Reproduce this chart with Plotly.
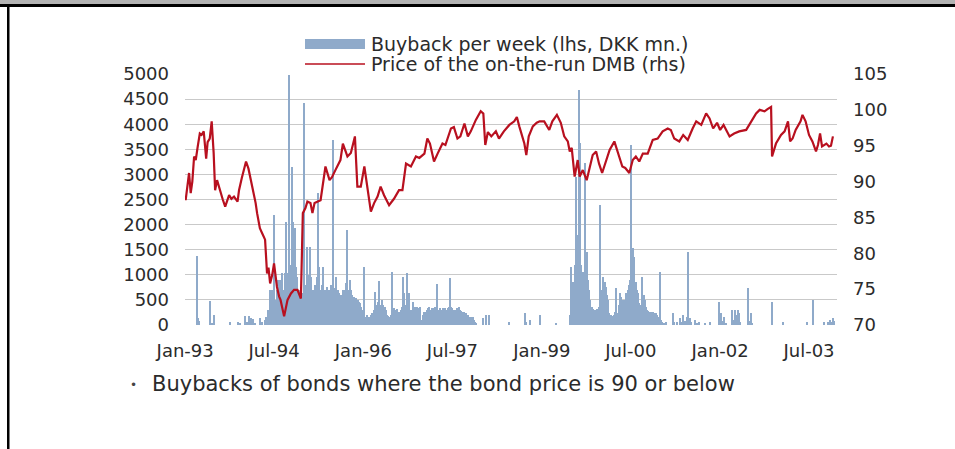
import pandas as pd
import plotly.graph_objects as go

# ---------------- data ----------------
# Weekly buybacks (DKK mn.), 52 weeks per year, 1993..2003
buyback_1993 = [0,0,0,0,0,0,0,0,0,0, 1375,133,70,0,0,0,0,0,0,0,
                0,485,0,30,0,200,0,0,0,0, 0,0,0,0,0,0,0,0,0,60,
                0,0,0,0,0,0,50,0,40,0, 0,0]
buyback_1994 = [170,0,60,0,170,130,40,110,0,40, 0,0,0,130,0,50,0,0,90,150,
                300,180,700,700,700,400,2190,500,700,900, 850,900,800,1030,700,1030,2060,1030,800,4980,
                1200,3155,2060,1000,1925,1160,960,700,700,630, 600,630]
buyback_1995 = [4415,630,800,1560,1000,1560,960,700,700,690, 800,960,2625,1160,700,700,800,1160,700,700,
                750,700,700,650,800,3685,700,730,960,700, 700,630,600,500,700,650,700,830,1890,700,
                900,700,600,565,550,500,530,500,450,430, 350,300]
buyback_1996 = [230,1160,165,200,150,100,150,200,230,300, 665,400,350,450,880,400,500,400,350,365,
                300,200,170,150,200,1060,250,330,250,300, 310,250,200,300,350,960,630,400,1030,500,
                630,300,230,300,465,350,300,365,300,330, 350,100]
buyback_1997 = [200,265,265,265,300,330,365,300,330,330, 300,350,300,815,300,330,300,300,330,300,
                330,300,330,350,930,350,330,300,300,300, 330,300,365,300,280,265,250,240,230,200,
                200,165,150,165,165,100,60,30,0,0, 0,0]
buyback_1998 = [0,130,0,0,200,0,200,0,0,0, 0,0,0,0,0,0,0,0,0,0,
                0,0,0,0,65,0,0,0,0,0, 0,0,0,0,0,0,0,0,230,50,
                0,0,100,0,0,0,0,0,0,0, 0,200]
buyback_1999 = [0,0,0,0,0,0,0,0,0,0, 0,0,0,30,0,0,0,0,0,0,
                0,0,0,0,0,200,1160,700,865,700, 1200,2955,1800,4680,3620,1200,800,1060,900,3220,
                1460,900,700,500,365,350,320,300,300,320, 300,350]
buyback_2000 = [2390,700,960,800,860,760,600,500,230,200, 180,165,200,250,730,230,400,630,560,450,
                500,430,500,630,700,800,900,3585,1000,1530, 1360,860,700,630,430,400,365,960,600,500,
                365,300,280,265,250,250,265,240,230,230, 200,150]
buyback_2001 = [1060,100,50,0,30,0,65,0,0,0, 0,0,230,50,0,65,0,0,130,60,
                0,200,80,0,150,1460,80,130,60,0, 0,100,0,40,0,65,0,0,0,0,
                30,0,0,0,65,0,0,0,0,0, 0,0]
buyback_2002 = [465,100,230,80,60,165,40,0,0,0, 0,0,300,100,300,80,200,300,230,60,
                0,0,0,0,0,0,730,80,230,40, 0,0,0,0,0,0,0,0,0,0,
                0,0,0,0,0,0,0,465,0,0, 0,0]
buyback_2003 = [0,0,0,0,65,0,0,0,0,0, 0,0,0,0,0,0,0,0,0,0,
                0,0,0,0,0,65,0,0,0,0, 0,500,0,0,0,0,0,0,0,0,
                65,0,0,0,65,0,100,60,130,80, 0,0]

# Price of the on-the-run DMB
price_dates = [
    "1993-01-04","1993-01-14","1993-01-25","1993-02-04","1993-02-14","1993-02-25","1993-03-07","1993-03-20",
    "1993-04-01","1993-04-12","1993-04-25","1993-05-10","1993-05-19","1993-06-01","1993-06-13","1993-06-25",
    "1993-07-04","1993-07-16","1993-08-07","1993-08-20","1993-09-04","1993-09-28","1993-10-12","1993-10-28",
    "1993-11-19","1993-11-28","1993-12-15","1994-01-10","1994-01-25","1994-02-10","1994-02-26","1994-03-10",
    "1994-03-19","1994-04-05","1994-04-19","1994-05-07","1994-05-19","1994-05-28","1994-06-07","1994-06-20",
    "1994-07-01","1994-07-19","1994-08-01","1994-08-10","1994-09-01","1994-09-22","1994-10-13","1994-11-01",
    "1994-11-22","1994-12-13","1994-12-25","1995-01-10","1995-01-22","1995-02-10","1995-02-22","1995-03-07",
    "1995-04-13","1995-05-13","1995-06-07","1995-06-22","1995-07-13","1995-08-13","1995-08-28","1995-09-25",
    "1995-10-16","1995-11-10","1995-11-25","1995-12-16","1996-01-07","1996-01-25","1996-02-16","1996-03-07",
    "1996-03-28","1996-04-16","1996-05-07","1996-06-07","1996-07-07","1996-08-07","1996-08-28","1996-09-19",
    "1996-10-19","1996-11-19","1996-12-10","1997-01-10","1997-01-28","1997-02-13","1997-03-10","1997-04-01",
    "1997-05-01","1997-05-19","1997-06-22","1997-07-10","1997-08-01","1997-08-19","1997-09-13","1997-10-04",
    "1997-10-22","1997-11-22","1997-12-22","1998-01-07","1998-01-19","1998-02-04","1998-02-25","1998-03-25",
    "1998-04-13","1998-05-13","1998-06-16","1998-07-16","1998-08-01","1998-08-16","1998-09-01","1998-09-16",
    "1998-09-28","1998-10-13","1998-11-07","1998-12-01","1998-12-19","1999-01-16","1999-02-16","1999-03-07",
    "1999-04-04","1999-04-28","1999-05-19","1999-06-10","1999-06-22","1999-07-04","1999-07-22","1999-08-10",
    "1999-08-22","1999-09-10","1999-10-04","1999-10-19","1999-11-10","1999-12-01","1999-12-19","2000-01-07",
    "2000-01-28","2000-02-22","2000-03-22","2000-04-19","2000-05-10","2000-05-28","2000-06-22","2000-07-13",
    "2000-08-01","2000-08-22","2000-09-13","2000-10-13","2000-11-13","2000-12-13","2001-01-13","2001-02-13",
    "2001-03-04","2001-03-25","2001-04-25","2001-05-19","2001-06-16","2001-07-16","2001-08-07","2001-09-07",
    "2001-10-07","2001-10-28","2001-11-19","2001-12-13","2002-01-01","2002-01-22","2002-02-13","2002-02-28",
    "2002-03-28","2002-04-28","2002-06-10","2002-06-28","2002-07-19","2002-08-10","2002-09-01","2002-10-01",
    "2002-10-19","2002-11-10","2002-11-16","2002-12-10","2003-01-10","2003-02-01","2003-02-22","2003-03-07",
    "2003-03-22","2003-04-10","2003-05-10","2003-05-22","2003-06-10","2003-07-01","2003-07-22","2003-08-13",
    "2003-08-25","2003-09-07","2003-09-19","2003-10-16","2003-11-01","2003-11-13","2003-11-25",
]
price_values = [
    87.4, 89.5, 91.2, 88.4, 90.0, 93.5, 93.0, 95.0,
    96.7, 96.5, 97.0, 93.2, 95.5, 96.0, 98.4, 94.0,
    88.8, 90.2, 88.4, 87.5, 86.5, 88.1, 87.6, 87.9,
    87.2, 88.8, 90.5, 92.8, 91.8, 90.2, 88.4, 87.0,
    85.6, 83.5, 82.8, 81.9, 77.2, 78.0, 75.8, 77.0,
    78.6, 75.3, 74.0, 73.5, 71.2, 73.5, 74.4, 74.9,
    74.9, 73.7, 85.6, 86.3, 87.2, 87.0, 85.6, 87.0,
    87.4, 92.1, 90.2, 90.6, 91.6, 93.0, 95.3, 93.5,
    94.0, 96.3, 89.3, 89.3, 92.1, 89.3, 85.8, 87.0,
    87.9, 89.3, 88.1, 86.7, 87.6, 88.8, 88.8, 92.5,
    92.1, 93.5, 93.3, 93.9, 96.0, 95.3, 92.8, 93.9,
    95.3, 95.1, 97.4, 97.6, 96.0, 96.3, 98.1, 96.3,
    97.0, 98.6, 99.8, 99.5, 95.1, 96.9, 96.3, 97.0,
    96.0, 97.0, 97.9, 98.4, 99.0, 97.7, 96.3, 95.3,
    93.7, 96.3, 97.7, 98.2, 98.4, 98.4, 97.2, 98.4,
    99.3, 98.2, 96.3, 95.6, 94.2, 94.7, 90.7, 93.0,
    90.7, 91.6, 90.2, 91.6, 93.7, 94.2, 92.5, 91.2,
    92.8, 94.4, 95.6, 93.5, 92.1, 91.9, 91.2, 93.0,
    93.5, 92.8, 93.9, 93.9, 95.8, 96.0, 97.0, 97.4,
    97.2, 96.0, 95.6, 96.5, 95.8, 97.4, 98.4, 97.9,
    99.5, 98.8, 97.4, 98.2, 97.2, 97.9, 97.0, 96.3,
    96.7, 97.0, 97.2, 97.9, 98.6, 99.5, 100.0, 99.8,
    100.1, 100.4, 93.5, 95.3, 96.5, 97.0, 98.4, 95.6,
    96.0, 97.2, 98.4, 99.3, 98.4, 96.5, 95.6, 94.2,
    95.1, 96.7, 94.9, 95.3, 94.9, 95.0, 96.3,
]

left_ticks = [0, 500, 1000, 1500, 2000, 2500, 3000, 3500, 4000, 4500, 5000]
right_ticks = [70, 75, 80, 85, 90, 95, 100, 105]
x_tick_dates = ["1993-01-01", "1994-07-01", "1996-01-01", "1997-07-01",
                "1999-01-01", "2000-07-01", "2002-01-01", "2003-07-01"]
x_tick_labels = ["Jan-93", "Jul-94", "Jan-96", "Jul-97", "Jan-99", "Jul-00", "Jan-02", "Jul-03"]

bar_name = "Buyback per week (lhs, DKK mn.)"
line_name = "Price of the on-the-run DMB (rhs)"
note_text = "Buybacks of bonds where the bond price is 90 or below"

# ---------------- figure ----------------
buyback_values = (buyback_1993 + buyback_1994 + buyback_1995 + buyback_1996 + buyback_1997 +
                  buyback_1998 + buyback_1999 + buyback_2000 + buyback_2001 + buyback_2002 +
                  buyback_2003)
buyback_dates = pd.date_range("1993-01-04", periods=len(buyback_values), freq="7D")

W, H = 955, 449
L, R, T, B = 185, 118, 74, 124
PW, PH = W - L - R, H - T - B


def px(x):
    return (x - L) / PW


def py(y):
    return (H - B - y) / PH


BAR_COLOR = "#8FAACA"
LINE_COLOR = "#B8101F"
FONT = "DejaVu Sans"
TXT = "#2b2b2b"

fig = go.Figure()
fig.add_trace(go.Bar(
    x=buyback_dates, y=buyback_values, name=bar_name,
    marker=dict(color=BAR_COLOR, line=dict(width=0)),
    width=7 * 24 * 3600 * 1000, yaxis="y", showlegend=False,
))
fig.add_trace(go.Scatter(
    x=pd.to_datetime(price_dates), y=price_values, name=line_name, mode="lines",
    line=dict(color=LINE_COLOR, width=2.2), yaxis="y2", showlegend=False,
))

shapes = [
    # frame decorations
    dict(type="rect", xref="paper", yref="paper", x0=px(0), x1=px(W), y0=py(4), y1=py(0),
         fillcolor="#b3b3b3", line=dict(width=0), layer="above"),
    dict(type="rect", xref="paper", yref="paper", x0=px(0), x1=px(W), y0=py(7), y1=py(4),
         fillcolor="#000000", line=dict(width=0), layer="above"),
    dict(type="rect", xref="paper", yref="paper", x0=px(7), x1=px(9.5), y0=py(H), y1=py(4),
         fillcolor="#000000", line=dict(width=0), layer="above"),
    # legend swatches
    dict(type="rect", xref="paper", yref="paper", x0=px(305), x1=px(365), y0=py(49), y1=py(39),
         fillcolor=BAR_COLOR, line=dict(width=0)),
    dict(type="line", xref="paper", yref="paper", x0=px(305), x1=px(365), y0=py(64), y1=py(64),
         line=dict(color=LINE_COLOR, width=1.5)),
]

annotations = [
    dict(text=bar_name, xref="paper", yref="paper", x=px(369), y=py(44), xanchor="left",
         yanchor="middle", showarrow=False, font=dict(family=FONT, size=19, color=TXT)),
    dict(text=line_name, xref="paper", yref="paper", x=px(369), y=py(64), xanchor="left",
         yanchor="middle", showarrow=False, font=dict(family=FONT, size=19, color=TXT)),
    dict(text="•", xref="paper", yref="paper", x=px(133), y=py(385), xanchor="center",
         yanchor="middle", showarrow=False, font=dict(family=FONT, size=12, color="#444444")),
    dict(text=note_text, xref="paper", yref="paper", x=px(150), y=py(384), xanchor="left",
         yanchor="middle", showarrow=False, font=dict(family=FONT, size=21, color=TXT)),
]

fig.update_layout(
    width=W, height=H,
    margin=dict(l=L, r=R, t=T, b=B, pad=0),
    paper_bgcolor="white", plot_bgcolor="white",
    font=dict(family=FONT, size=18, color=TXT),
    bargap=0,
    xaxis=dict(
        type="date", range=["1992-12-31", "2003-12-20"],
        tickvals=pd.to_datetime(x_tick_dates), ticktext=x_tick_labels,
        showgrid=False, showline=False, zeroline=False, ticks="",
        ticklabelstandoff=13, tickfont=dict(size=18),
    ),
    yaxis=dict(
        range=[0, 5000], tickvals=left_ticks, ticks="",
        showgrid=True, gridcolor="#c9c9c9", gridwidth=1, zeroline=False, showline=False,
        ticklabelstandoff=15, tickfont=dict(size=18),
    ),
    yaxis2=dict(
        range=[70, 105], tickvals=right_ticks, overlaying="y", side="right", ticks="",
        showgrid=False, zeroline=False, showline=False,
        ticklabelstandoff=15, tickfont=dict(size=18),
    ),
    shapes=shapes,
    annotations=annotations,
)

fig.write_html(
    "out.html",
    config={"displayModeBar": False},
    post_script="document.body.style.margin='0px';document.body.style.overflow='hidden';",
)
